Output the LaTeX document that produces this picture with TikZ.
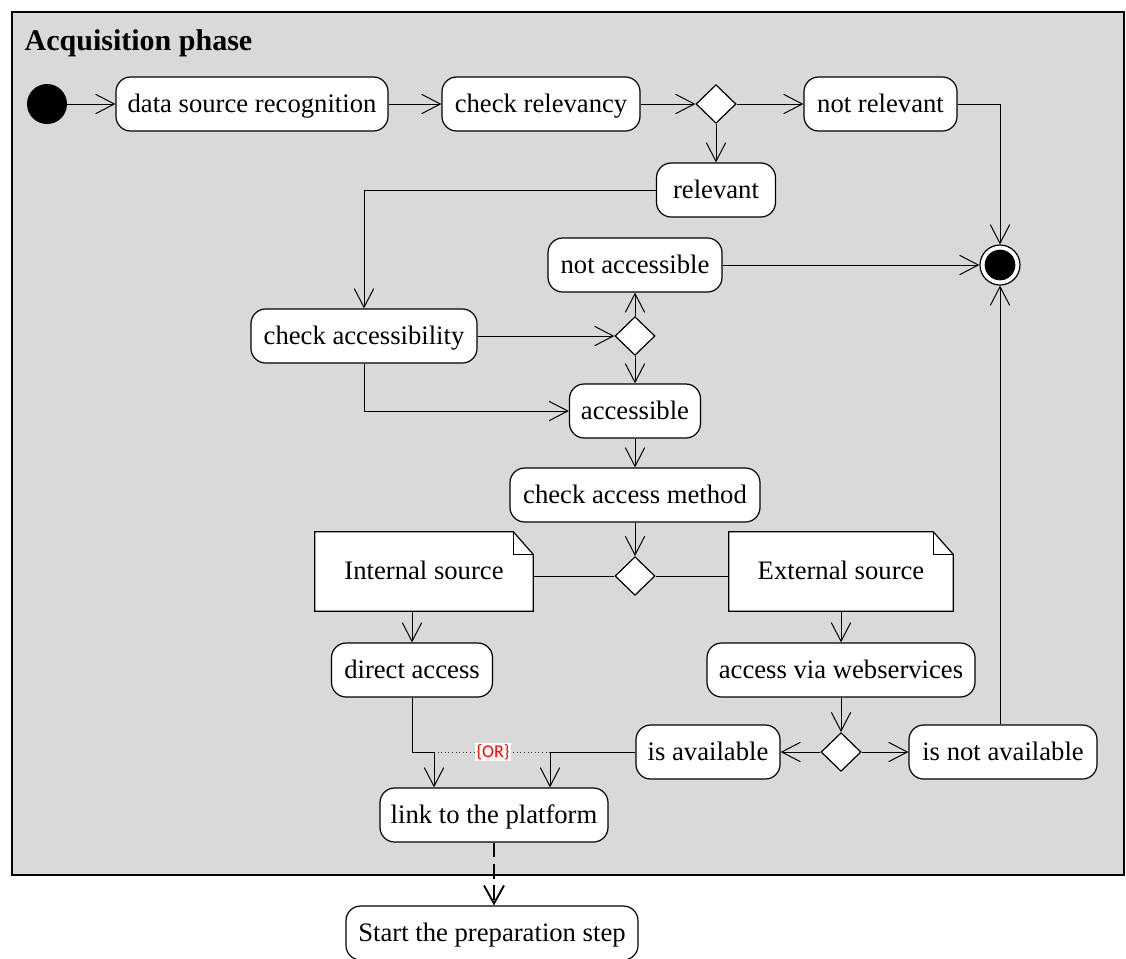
\documentclass[tikz,border=0pt]{standalone}
\usepackage{fontspec}
\setmainfont{Liberation Serif}
\newfontfamily\orfont{Carlito}
\usetikzlibrary{shapes.geometric,arrows.meta}
\definecolor{lanegray}{RGB}{217,217,217}
\definecolor{orred}{RGB}{255,0,0}
\pgfdeclarelayer{lane}
\pgfdeclarelayer{notebg}
\pgfsetlayers{lane,notebg,main}

\begin{document}
\begin{tikzpicture}[x=0.75pt,y=-0.75pt,
  act/.style={draw, fill=white, rounded corners=11pt, minimum height=40.5pt,
    inner sep=0pt, text height=14pt, text depth=2pt,
    font=\fontsize{20pt}{24pt}\selectfont, line width=0.9pt},
  dec/.style={diamond, draw, fill=white, minimum width=30pt, minimum height=29pt,
    inner sep=0pt, line width=0.9pt},
  notebox/.style={minimum height=59.25pt, inner sep=0pt, text height=14pt, text depth=2pt,
    font=\fontsize{20pt}{24pt}\selectfont},
  notepath/.style={draw, fill=white, line width=0.9pt},
  flow/.style={line width=0.75pt, -{Straight Barb[length=14pt,width=14.5pt,line width=0.75pt]}},
  plain/.style={line width=0.75pt},
]
\useasboundingbox (0,0) rectangle (1126,958);

% swimlane frame
\begin{pgfonlayer}{lane}
  \draw[fill=lanegray, line width=1.5pt] (12,12) rectangle (1124,875);
\end{pgfonlayer}
\node[anchor=base west, font=\fontsize{22.5pt}{27pt}\selectfont\bfseries] (title) at (20,50) {Acquisition phase};

% initial and final nodes
\node[circle, fill=black, minimum size=30pt, inner sep=0pt] (ini) at (47,104) {};
\node[circle, draw, fill=white, minimum size=30pt, inner sep=0pt, line width=0.9pt] (fin) at (1000,265) {};
\node[circle, fill=black, minimum size=23pt, inner sep=0pt] (fincore) at (fin) {};

% actions
\node[act, minimum width=204pt]   (dsr)   at (252,104)   {data source recognition};
\node[act, minimum width=148.5pt] (chr)   at (541,104)   {check relevancy};
\node[dec]                        (d1)    at (716,104)   {};
\node[act, minimum width=114.75pt](nrel)  at (880.5,104) {not relevant};
\node[act, minimum width=89.25pt] (rel)   at (716,190)   {relevant};
\node[act, minimum width=130.5pt] (nacc)  at (635,265)   {not accessible};
\node[act, minimum width=169.5pt] (cacc)  at (364,336)   {check accessibility};
\node[dec]                        (d2)    at (635,336)   {};
\node[act, minimum width=98.25pt] (acc)   at (635,411)   {accessible};
\node[act, minimum width=187.5pt] (cam)   at (635,495)   {check access method};
\node[dec]                        (d3)    at (635,576)   {};
\node[act, minimum width=120.75pt](da)    at (412,670)   {direct access};
\node[act, minimum width=201pt]   (avw)   at (841,670)   {access via webservices};
\node[dec]                        (d4)    at (841,752)   {};
\node[act, minimum width=108pt]   (isav)  at (708,752)   {is available};
\node[act, minimum width=141pt]   (isnav) at (1003,752)  {is not available};
\node[act, minimum width=171pt]   (plat)  at (494,815)   {link to the platform};
\node[act, minimum width=219pt]   (prep)  at (492,933)   {Start the preparation step};

% notes with folded corner
\node[notebox, minimum width=163.5pt] (ins) at (424,571.5) {Internal source};
\node[notebox, minimum width=168pt]   (ext) at (841,571.5) {External source};
\begin{pgfonlayer}{notebg}
  \foreach \n in {ins,ext}{
    \path[notepath] (\n.south west) -- (\n.north west) -- ([xshift=-15pt]\n.north east)
      -- ([yshift=-17pt]\n.north east) -- (\n.south east) -- cycle;
    \draw[line width=0.9pt] ([xshift=-15pt]\n.north east) |- ([yshift=-17pt]\n.north east);
  }
\end{pgfonlayer}

% flows
\draw[flow] (ini) -- (dsr);
\draw[flow] (dsr) -- (chr);
\draw[flow] (chr) -- (d1);
\draw[flow] (d1) -- (nrel);
\draw[flow] (d1) -- (rel);
\draw[flow] (nrel.east) -| (fin.north);
\draw[flow] (rel.west) -| (cacc.north);
\draw[flow] (nacc) -- (fin);
\draw[flow] (cacc) -- (d2);
\draw[flow] (d2) -- (nacc);
\draw[flow] (d2) -- (acc);
\draw[flow] (cacc.south) |- (acc.west);
\draw[flow] (acc) -- (cam);
\draw[flow] (cam) -- (d3);
\draw[plain] (d3.west) -- (d3.west -| ins.east);
\draw[plain] (d3.east) -- (d3.east -| ext.west);
\draw[flow] (ins.south -| da.north) -- (da.north);
\draw[flow] (ext.south) -- (avw.north);
\draw[flow] (avw) -- (d4);
\draw[flow] (d4) -- (isav);
\draw[flow] (d4) -- (isnav);
\draw[flow] (fin |- isnav.north) -- (fin.south);

% merge into the platform link
\coordinate (jl) at (434,752);
\coordinate (jr) at (550,752);
\draw[flow] (da.south) |- (jl) -- (jl |- plat.north);
\draw[flow] (isav.west) -- (jr) -- (jr |- plat.north);
\draw[line width=0.7pt, black!80, dotted] (jl) -- (jr);
\node[fill=white, inner sep=1pt, text=orred, font=\orfont\fontsize{13.5pt}{15pt}\selectfont] (orlabel) at (493,752) {\{OR\}};

% hand-over to the next phase
\draw[line width=1.4pt, dash pattern=on 11pt off 5pt,
  -{Straight Barb[length=13.5pt,width=15pt,line width=1.4pt]}] (plat.south) -- (plat.south |- prep.north);
\end{tikzpicture}
\end{document}
